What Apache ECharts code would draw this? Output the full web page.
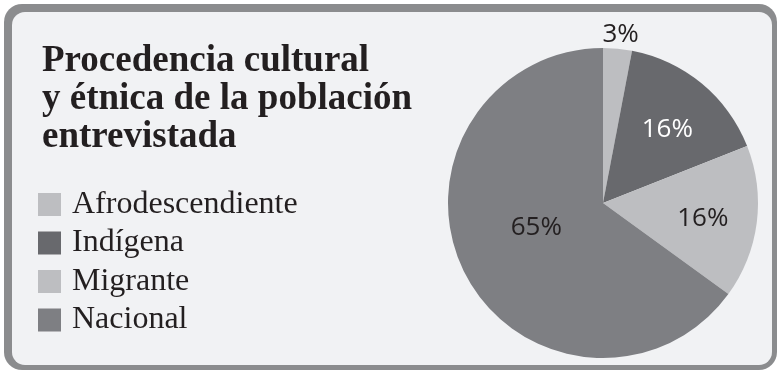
<!DOCTYPE html>
<html><head><meta charset="utf-8">
<script src="https://cdn.jsdelivr.net/npm/echarts@6/dist/echarts.min.js"></script>
<style>html,body{margin:0;padding:0;background:#fff}#c{width:782px;height:375px}</style>
</head><body><div id="c"></div>
<script>
const categories = ['Afrodescendiente', 'Indígena', 'Migrante', 'Nacional'];
const values = [3, 16, 16, 65];
const titleText = 'Procedencia cultural\ny étnica de la población\nentrevistada';

const sliceColors = ['#bdbec1', '#68696d', '#bdbec1', '#7e7f83'];
const labelColors = ['#231f20', '#ffffff', '#231f20', '#231f20'];
const labelOffsets = [[10, -88], [13, -11], [20, 6], [5, -12]];

const chart = echarts.init(document.getElementById('c'), null, {renderer: 'canvas'});
chart.setOption({
  animation: false,
  backgroundColor: '#ffffff',
  graphic: [
    {type: 'rect', z: -10, shape: {x: 4, y: 4, width: 773, height: 366, r: 18}, style: {fill: '#8b8c8e'}},
    {type: 'rect', z: -9, shape: {x: 12, y: 12, width: 760, height: 353, r: 13}, style: {fill: '#f1f2f4'}}
  ],
  title: {
    text: titleText, left: 42, top: 42, padding: 0,
    textStyle: {fontFamily: 'Liberation Serif', fontWeight: 'bold', fontSize: 37, lineHeight: 38, color: '#231f20'}
  },
  legend: {
    orient: 'vertical', left: 38, top: 188.5, padding: 0, icon: 'rect', itemWidth: 23, itemHeight: 23, itemGap: 6.5,
    data: categories,
    textStyle: {fontFamily: 'Liberation Serif', fontSize: 32, lineHeight: 32, color: '#231f20', padding: [0, 0, 0, 6]}
  },
  series: [{
    type: 'pie', center: [603, 203], radius: 155, startAngle: 90, clockwise: true,
    silent: true,
    data: categories.map((n, i) => ({
      name: n, value: values[i],
      itemStyle: {color: sliceColors[i]},
      label: {color: labelColors[i], offset: labelOffsets[i]}
    })),
    label: {show: true, position: 'inside', formatter: '{c}%', fontFamily: 'Open Sans', fontSize: 26},
    labelLine: {show: false}
  }]
});
</script></body></html>
